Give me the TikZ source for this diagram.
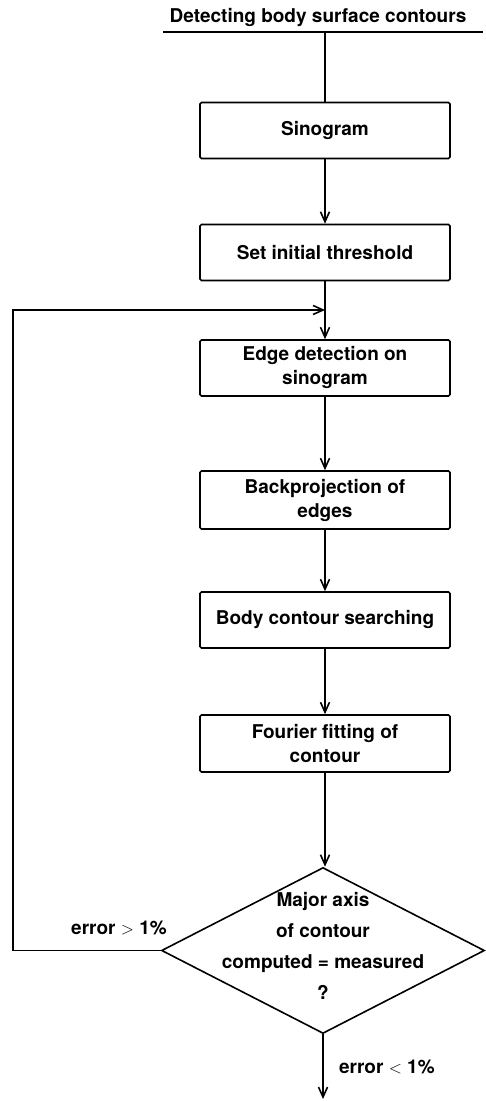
\documentclass[tikz,border=0pt]{standalone}
\usepackage{fontspec}
\setmainfont{TeX Gyre Heros}
\usetikzlibrary{arrows.meta,shapes.geometric}

\begin{document}
\begin{tikzpicture}[x=1pt, y=1pt, line width=1.6pt,
  every node/.style={font=\fontsize{19}{24}\selectfont\bfseries},
  stepbox/.style={draw, rounded corners=1.5pt, minimum width=250pt, minimum height=56pt, align=center, inner sep=0pt},
  decision/.style={draw, diamond, minimum width=323pt, minimum height=166pt, inner sep=0pt},
  flow/.style={-{Straight Barb[length=10pt,width=9pt]}}]
\useasboundingbox (0,0) rectangle (485,1101);
% Heading
\node (title) at (318,1083) {Detecting body surface contours};
\coordinate (rule l) at (163,1069);
\coordinate (rule r) at (483,1069);
\draw[line width=1.3pt] (rule l) -- (rule r);
% Steps
\node[stepbox] (sino) at (325,970.5) {Sinogram};
\node[stepbox] (thresh) at (325,848.5) {Set initial threshold};
\node[stepbox] (edge) at (325,733) {Edge detection on\\sinogram};
\node[stepbox, minimum height=58pt] (backproj) at (325,601) {Backprojection of\\edges};
\node[stepbox] (search) at (325,481) {Body contour searching};
\node[stepbox, minimum height=57pt] (fourier) at (325,357.5) {Fourier fitting of\\contour};
% Test
\node[decision] (check) at (323,150.5) {};
\node[font=\fontsize{19}{31}\selectfont\bfseries, align=center] (question) at (323,155)
  {Major axis\\of contour\\computed = measured\\?};
% Connectors
\coordinate (join) at (325,791);
\coordinate (corner) at (13,791);
\coordinate (exit) at (323,2);
\draw (sino.north) -- (sino.north |- rule l);
\draw[flow] (sino) -- (thresh);
\draw[flow] (thresh) -- (edge);
\draw[flow] (edge) -- (backproj);
\draw[flow] (backproj) -- (search);
\draw[flow] (search) -- (fourier);
\draw[flow] (fourier.south) -- (fourier.south |- check.north);
\draw[flow] (check.west) -| (corner) -- (join);
\draw[flow] (check.south) -- node[right, xshift=12pt] {error $<$ 1\%} (exit);
\node (fail) at (119,173) {error $>$ 1\%};
\end{tikzpicture}
\end{document}
